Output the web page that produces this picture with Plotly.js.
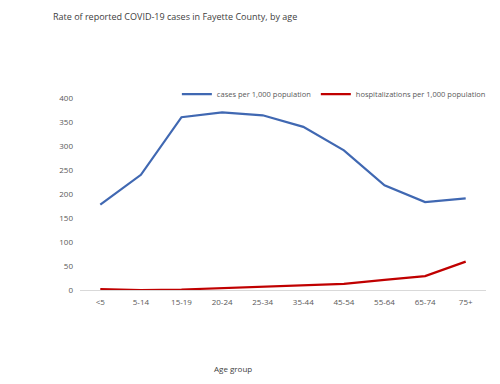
<!DOCTYPE html>
<html><head><meta charset="utf-8">
<script src="https://cdn.plot.ly/plotly-3.0.1.min.js"></script>
<style>html,body{margin:0;padding:0;background:#fff}#c{width:500px;height:384px}</style>
</head><body><div id="c"></div>
<script>
const ageGroups = ["<5","5-14","15-19","20-24","25-34","35-44","45-54","55-64","65-74","75+"];
const casesPer1000 = [178,240,360,370,364,340,291,218,183,191];
const hospPer1000 = [2,0,1,4,7,10,13,21,29,59];
const yTicks = [0,50,100,150,200,250,300,350,400];

const font = "Open Sans, Noto Sans, sans-serif";
const plotTop = 98, plotBottom = 290.5, plotH = plotBottom - plotTop;
const traces = [
  {x: ageGroups, y: casesPer1000, type: "scatter", mode: "lines", name: "cases per 1,000 population",
   line: {color: "#4068B2", width: 2.25}},
  {x: ageGroups, y: hospPer1000, type: "scatter", mode: "lines", name: "hospitalizations per 1,000 population",
   line: {color: "#C00000", width: 2.25}}
];
const layout = {
  width: 500, height: 384,
  margin: {l: 80, r: 9, t: plotTop, b: 384 - plotBottom},
  paper_bgcolor: "#fff", plot_bgcolor: "#fff",
  font: {family: font, size: 8, color: "#595959"},
  title: {text: "Rate of reported COVID-19 cases in Fayette County, by age",
    x: 53/500, xanchor: "left", xref: "container", y: 1 - 17/384, yanchor: "middle", yref: "container",
    font: {family: font, size: 9, color: "#404040"}},
  xaxis: {type: "category", range: [-0.5, 9.5], showgrid: false, zeroline: false, showline: true,
    linecolor: "#d9d9d9", linewidth: 1, ticks: "", ticklabelstandoff: 4,
    tickfont: {size: 8, color: "#595959"}},
  yaxis: {range: [0, 400], tickvals: yTicks, showgrid: false, zeroline: false, showline: false,
    ticks: "", ticklabelstandoff: 6, tickfont: {size: 8, color: "#595959"}},
  showlegend: true,
  legend: {orientation: "h", x: 1.012, xanchor: "right", xref: "paper",
    y: (plotBottom - 94) / plotH, yanchor: "middle",
    font: {size: 7.5, color: "#595959"}, itemwidth: 30, tracegroupgap: 0, bgcolor: "rgba(0,0,0,0)"},
  annotations: [{text: "Age group", xref: "paper", yref: "paper", x: (235 - 80) / 411,
    y: (plotBottom - 369) / plotH, xanchor: "center", yanchor: "middle", showarrow: false,
    font: {size: 8, color: "#404040"}}]
};
Plotly.newPlot("c", traces, layout, {displayModeBar: false, staticPlot: true});
</script></body></html>
